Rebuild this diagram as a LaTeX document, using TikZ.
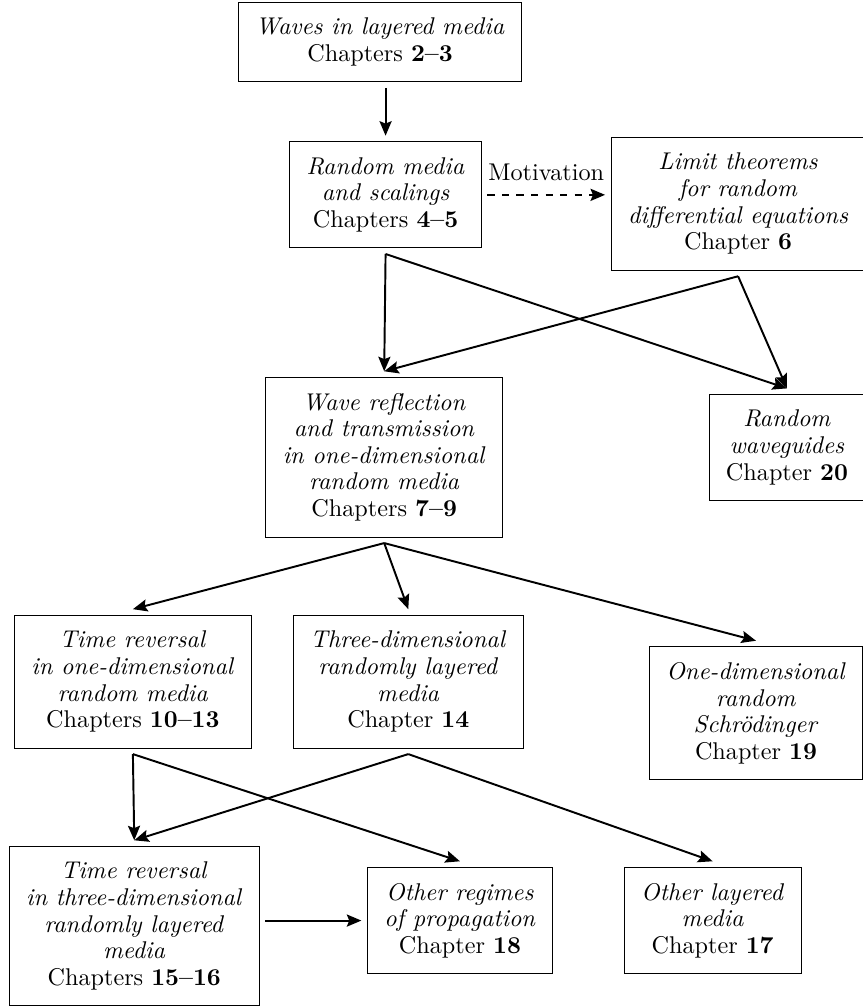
\documentclass[tikz,border=0pt]{standalone}
\usepackage{tikz}
\usetikzlibrary{arrows.meta}

\begin{document}
\begin{tikzpicture}[>={Stealth[length=6pt, width=5pt, inset=1pt]},
		chap/.style={draw, align=center, inner xsep=7pt, inner ysep=6.5pt, outer sep=2.5pt, font=\fontsize{10}{11}\selectfont},
		link/.style={->, thick}]
		\useasboundingbox (0,0) rectangle (12.53,-14.64);

		\node[chap] (waves) at (5.52,-0.61) {\textit{Waves in layered media}\\Chapters \textbf{2--3}};
		\node[chap] (scaling) at (5.60,-2.83) {\textit{Random media}\\\textit{and scalings}\\Chapters \textbf{4--5}};
		\node[chap] (limit) at (10.72,-2.96) {\textit{Limit theorems}\\\textit{for random}\\\textit{differential equations}\\Chapter \textbf{6}};

		\node[chap] (reflect) at (5.58,-6.64) {\textit{Wave reflection}\\\textit{and transmission}\\\textit{in one-dimensional}\\\textit{random media}\\Chapters \textbf{7--9}};
		\node[chap] (guide) at (11.43,-6.50) {\textit{Random}\\\textit{waveguides}\\Chapter \textbf{20}};

		\node[chap] (trevone) at (1.93,-9.90) {\textit{Time reversal}\\\textit{in one-dimensional}\\\textit{random media}\\Chapters \textbf{10--13}};
		\node[chap] (threed) at (5.93,-9.90) {\textit{Three-dimensional}\\\textit{randomly layered}\\\textit{media}\\Chapter \textbf{14}};
		\node[chap] (schrod) at (10.98,-10.36) {\textit{One-dimensional}\\\textit{random}\\\textit{Schr\"odinger}\\Chapter \textbf{19}};

		\node[chap] (trevthree) at (1.95,-13.45) {\textit{Time reversal}\\\textit{in three-dimensional}\\\textit{randomly layered}\\\textit{media}\\Chapters \textbf{15--16}};
		\node[chap] (regimes) at (6.68,-13.37) {\textit{Other regimes}\\\textit{of propagation}\\Chapter \textbf{18}};
		\node[chap] (layered) at (10.35,-13.37) {\textit{Other layered}\\\textit{media}\\Chapter \textbf{17}};

		% top part
		\draw[link] (scaling.north |- waves.south) -- (scaling.north);
		\draw[link, dashed] (scaling.east) -- (scaling.east -| limit.west) node[midway, above=2pt] {Motivation};
		\draw[link] (scaling.south) -- (reflect.north);
		\draw[link] (scaling.south) -- (guide.north);
		\draw[link] (limit.south) -- (reflect.north);
		\draw[link] (limit.south) -- (guide.north);

		% middle part
		\draw[link] (reflect.south) -- (trevone.north);
		\draw[link] (reflect.south) -- (threed.north);
		\draw[link] (reflect.south) -- (schrod.north);

		% bottom part
		\draw[link] (trevone.south) -- (trevthree.north);
		\draw[link] (trevone.south) -- (regimes.north);
		\draw[link] (threed.south) -- (trevthree.north);
		\draw[link] (threed.south) -- (layered.north);
		\draw[link] (trevthree.east |- regimes.west) -- (regimes.west);
\end{tikzpicture}
\end{document}
